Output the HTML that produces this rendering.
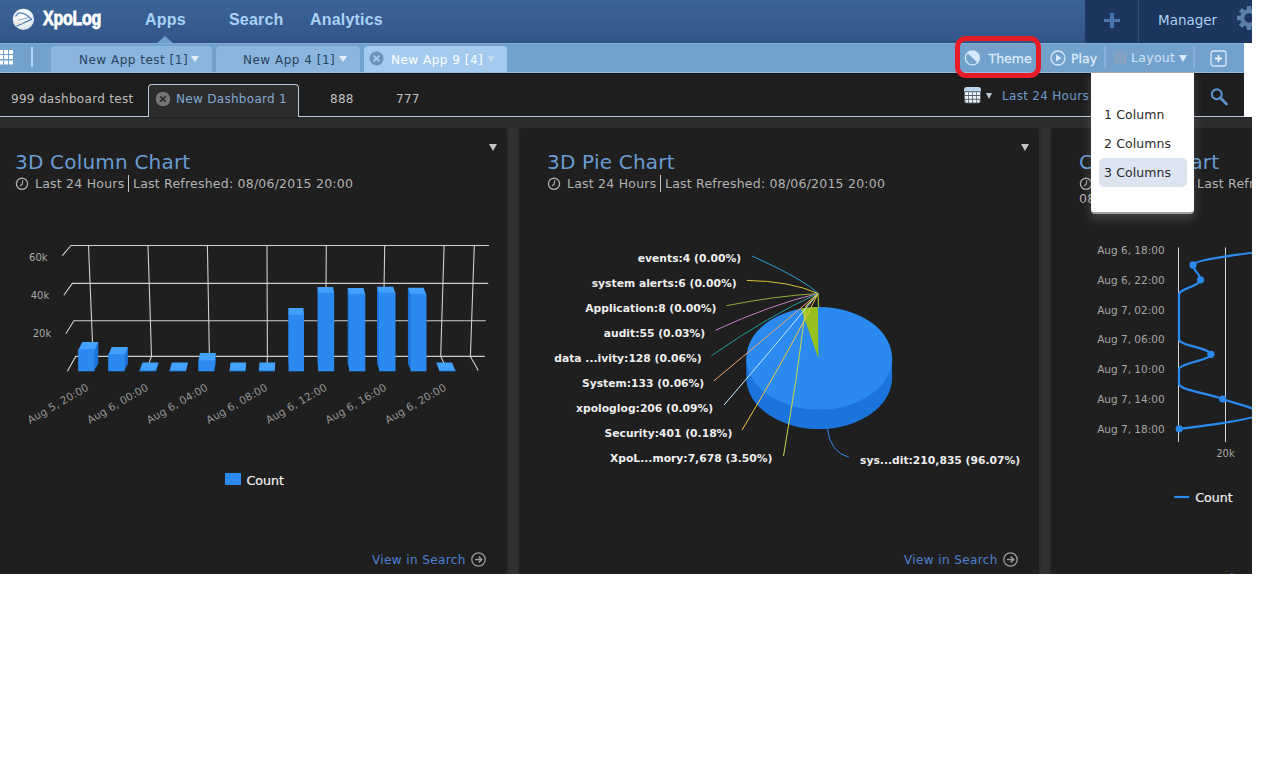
<!DOCTYPE html>
<html><head><meta charset="utf-8"><title>XpoLog Dashboard</title>
<style>
*{box-sizing:border-box;margin:0;padding:0}
html,body{width:1280px;height:760px;background:#fff;overflow:hidden}
body{position:relative;font-family:"DejaVu Sans","Liberation Sans",sans-serif}
.abs{position:absolute}
#topnav{left:0;top:0;width:1252px;height:43px;background:linear-gradient(#3b6597 0%,#33578a 90%,#2f5283 100%)}
#topdark{left:1085px;top:0;width:167px;height:43px;background:#1d365d}
#topsep{left:1138px;top:0;width:1px;height:43px;background:#2f4d78}
.nav{top:11px;font-family:"Liberation Sans",sans-serif;font-weight:bold;font-size:16px;color:#a9d1f6;letter-spacing:0.2px}
#toolbar{left:0;top:43px;width:1244px;height:30px;background:#72a2cc;border-top:1px solid #80acd5;border-bottom:1px solid #9dbcda}
.apptab{top:46px;height:26px;background:#8ab6de;border-radius:4px 4px 0 0;font-size:12px;color:#27435f;line-height:28px;letter-spacing:0.5px;white-space:nowrap}
.tarr{display:inline-block;width:0;height:0;border-left:4px solid transparent;border-right:4px solid transparent;border-top:6.5px solid #e4eef8;margin-left:-1px;vertical-align:2.5px}
#dashrow{left:0;top:73px;width:1244px;height:43px;background:#1e1e1e;border-top:1px solid #0d1520}
#dashline{left:0;top:116px;width:1244px;height:1px;background:#c3cbd4}
#gapband{left:0;top:117px;width:1252px;height:11px;background:#2d2c2d;border-top:1px solid #1b2430}
.panel{top:128px;height:446px;background:#1f1f1f;border-radius:4px 4px 0 0}
.title{font-size:20px;color:#6a9dd3;letter-spacing:0.2px;white-space:nowrap}
.sub{top:176px;font-size:12.5px;color:#b2b2b2;white-space:nowrap;letter-spacing:0.22px}
.parr{top:144px;width:0;height:0;border-left:4px solid transparent;border-right:4px solid transparent;border-top:7px solid #c4c4c4}
.vic{top:551px}
.tb{top:51px;font-size:12.5px;color:#d8eaf9;letter-spacing:0px;-webkit-text-stroke:0.35px #d8eaf9}
.dt{top:92px;font-size:12px;letter-spacing:0.3px;white-space:nowrap}
.dd{left:1104px;font-size:12.5px;letter-spacing:0.1px;color:#2a2a2a;white-space:nowrap}
.vis{top:553px;font-size:12px;color:#4b82d4;white-space:nowrap;letter-spacing:0.4px}
</style></head><body>
<div id="app" style="position:absolute;left:0;top:0;width:1252px;height:574px;overflow:hidden">
<!-- top nav -->
<div class="abs" id="topnav"></div>
<div class="abs" id="topdark"></div>
<div class="abs" id="topsep"></div>

<!-- logo -->
<svg class="abs" style="left:11px;top:7px" width="25" height="25" viewBox="0 0 25 25">
<defs><radialGradient id="lg" cx="0.45" cy="0.4" r="0.6"><stop offset="0" stop-color="#ffffff"/><stop offset="0.7" stop-color="#eef2f6"/><stop offset="1" stop-color="#d9e2ea"/></radialGradient></defs>
<circle cx="12.4" cy="12.3" r="10.6" fill="url(#lg)"/>
<path d="M4.4 9.4 L7.5 6 Q13.4 4.6 20.6 12.4 L5.4 19.3" fill="none" stroke="#4a7cb4" stroke-width="1.2" stroke-linejoin="round"/>
<path d="M6.8 13.4 Q12 12 17.5 10.6" fill="none" stroke="#7c9dc2" stroke-width="1"/>
<path d="M3 15.5 Q8 16.5 12 15.2" fill="none" stroke="#eadfcf" stroke-width="2" opacity="0.7"/>
</svg>
<div class="abs" style="left:43px;top:7px;font-family:'Liberation Sans',sans-serif;font-weight:bold;font-size:20px;color:#fff;transform:scaleX(0.8);transform-origin:0 0;letter-spacing:-0.3px;-webkit-text-stroke:0.8px #fff">XpoLog</div>
<!-- apps pointer -->
<div class="abs" style="left:156.5px;top:36px;width:0;height:0;border-left:8.5px solid transparent;border-right:8.5px solid transparent;border-bottom:7px solid #6f9fcb"></div>
<!-- plus in dark area -->
<div class="abs" style="left:1104px;top:18.5px;width:16px;height:3.5px;background:#4874ad"></div>
<div class="abs" style="left:1110.25px;top:12.5px;width:3.5px;height:15.5px;background:#4874ad"></div>
<!-- gear -->
<svg class="abs" style="left:1234px;top:5px" width="18" height="28" viewBox="0 0 18 28">
<g transform="translate(15,13)" fill="#5a7fa8">
<circle r="8.9"/>
<g><rect x="-2.3" y="-12" width="4.6" height="5"/><rect x="-2.3" y="7" width="4.6" height="5"/><rect x="-12" y="-2.3" width="5" height="4.6"/><rect x="7" y="-2.3" width="5" height="4.6"/></g>
<g transform="rotate(45)"><rect x="-2.3" y="-12" width="4.6" height="5"/><rect x="-2.3" y="7" width="4.6" height="5"/><rect x="-12" y="-2.3" width="5" height="4.6"/><rect x="7" y="-2.3" width="5" height="4.6"/></g>
<circle r="4.7" fill="#1d365d"/>
</g></svg>
<div class="abs nav" style="left:145px">Apps</div>
<div class="abs nav" style="left:229px">Search</div>
<div class="abs nav" style="left:310px">Analytics</div>
<div class="abs" style="left:1158px;top:12px;font-size:13.5px;color:#a9d1f6">Manager</div>

<!-- toolbar -->
<div class="abs" id="toolbar"></div>
<div class="abs apptab" style="left:51px;width:161px;padding-left:28px">New App test [1] <span class="tarr"></span></div>
<div class="abs apptab" style="left:216px;width:144px;padding-left:27px">New App 4 [1] <span class="tarr"></span></div>
<div class="abs apptab" style="left:364px;width:143px;padding-left:27px;background:#a3cbf0;color:#fff">New App 9 [4] <span class="tarr" style="border-top-color:#c4dcf2"></span></div>


<!-- grid icon -->
<svg class="abs" style="left:0;top:50px" width="14" height="15" viewBox="0 0 14 15" fill="#fbfdff">
<rect x="-1" y="0" width="4" height="4"/><rect x="4" y="0" width="4" height="4"/><rect x="9" y="0" width="4" height="4"/>
<rect x="-1" y="5" width="4" height="4"/><rect x="4" y="5" width="4" height="4"/><rect x="9" y="5" width="4" height="4"/>
<rect x="-1" y="10.5" width="4" height="4"/><rect x="4" y="10.5" width="4" height="4"/><rect x="9" y="10.5" width="4" height="4"/>
</svg>
<div class="abs" style="left:31px;top:47px;width:2px;height:20px;background:#b2d6f9"></div>
<!-- tab close icon -->
<svg class="abs" style="left:369px;top:51px" width="15" height="15" viewBox="0 0 15 15"><circle cx="7.5" cy="7.5" r="7" fill="#6a92ba"/><path d="M4.6 4.6L10.4 10.4M10.4 4.6L4.6 10.4" stroke="#a8cdf0" stroke-width="1.8"/></svg>
<!-- right side toolbar -->
<svg class="abs" style="left:964px;top:50px" width="17" height="17" viewBox="0 0 17 17">
<circle cx="8.4" cy="7.9" r="7" fill="none" stroke="#d6e8fa" stroke-width="1.3"/>
<path d="M3.4 3 A7 7 0 0 1 13.4 12.8 Z" fill="#d6e8fa"/>
</svg>
<div class="abs tb" style="left:988.5px">Theme</div>
<svg class="abs" style="left:1050px;top:50px" width="17" height="17" viewBox="0 0 17 17">
<circle cx="8" cy="8" r="7" fill="none" stroke="#d6e8fa" stroke-width="1.3"/>
<path d="M6 4.5 L11.5 8 L6 11.5 Z" fill="#d6e8fa"/>
</svg>
<div class="abs tb" style="left:1071px">Play</div>
<div class="abs" style="left:1104px;top:46px;width:2px;height:22px;background:#86b1da"></div>
<svg class="abs" style="left:1115px;top:52px" width="12" height="12" viewBox="0 0 12 12" fill="#8aa3bc" opacity="0.85">
<rect x="0" y="0" width="3" height="12"/><rect x="4" y="0" width="3" height="12"/><rect x="8" y="0" width="3" height="12"/></svg>
<div class="abs" style="left:1131px;top:50px;font-size:12.5px;letter-spacing:0.3px;color:#cfe4f8">Layout</div>
<div class="abs" style="left:1179px;top:55px;width:0;height:0;border-left:4px solid transparent;border-right:4px solid transparent;border-top:7px solid #dcebf9"></div>
<div class="abs" style="left:1193px;top:46px;width:2px;height:22px;background:#86b1da"></div>
<svg class="abs" style="left:1209.5px;top:49.5px" width="18" height="18" viewBox="0 0 18 18">
<rect x="1" y="1" width="15" height="15" rx="2.5" fill="none" stroke="#d6e8fa" stroke-width="1.3"/>
<path d="M8.5 5v7M5 8.5h7" stroke="#e8f2fc" stroke-width="1.8"/></svg>

<!-- dashboard tabs row -->
<div class="abs" id="dashrow"></div>
<div class="abs" id="dashline"></div>
<!-- dashboard tabs -->
<div class="abs dt" style="left:11px;color:#bdbdbd">999 dashboard test</div>
<div class="abs" style="left:148px;top:84px;width:151px;height:34px;background:#2d2c2d;border:1px solid #b9c9da;border-bottom:none;border-radius:4px 4px 0 0"></div>
<svg class="abs" style="left:155px;top:91px" width="16" height="16" viewBox="0 0 16 16"><circle cx="8" cy="8" r="7.3" fill="#757575"/><path d="M5.2 5.2L10.8 10.8M10.8 5.2L5.2 10.8" stroke="#262626" stroke-width="1.5"/></svg>
<div class="abs dt" style="left:176px;color:#83a8cf">New Dashboard 1</div>
<div class="abs dt" style="left:330px;color:#c0c0c0">888</div>
<div class="abs dt" style="left:396px;color:#c0c0c0">777</div>
<!-- calendar icon -->
<svg class="abs" style="left:963.5px;top:86.5px" width="18" height="17" viewBox="0 0 18 17">
<rect x="0" y="0" width="17" height="16.5" rx="3" fill="#56616d"/>
<path d="M3 0H14A3 3 0 0 1 17 3V4.2H0V3A3 3 0 0 1 3 0Z" fill="#bcd6ef"/>
<g fill="#eef2f6"><rect x="1" y="5.2" width="3.2" height="2.8"/><rect x="5" y="5.2" width="3.2" height="2.8"/><rect x="9" y="5.2" width="3.2" height="2.8"/><rect x="13" y="5.2" width="3" height="2.8"/>
<rect x="1" y="9" width="3.2" height="2.8"/><rect x="5" y="9" width="3.2" height="2.8"/><rect x="9" y="9" width="3.2" height="2.8"/><rect x="13" y="9" width="3" height="2.8"/>
<rect x="1.5" y="12.8" width="2.7" height="2.7"/><rect x="5" y="12.8" width="3.2" height="2.7"/><rect x="9" y="12.8" width="3.2" height="2.7"/><rect x="13" y="12.8" width="2.5" height="2.7"/></g>
</svg>
<div class="abs" style="left:986px;top:93px;width:0;height:0;border-left:3.5px solid transparent;border-right:3.5px solid transparent;border-top:6px solid #b8c8d8"></div>
<div class="abs dt" style="left:1002px;top:88.5px;color:#6b9bd0">Last 24 Hours</div>
<svg class="abs" style="left:1208px;top:86px" width="22" height="22" viewBox="0 0 22 22">
<circle cx="8.8" cy="8.3" r="4.9" fill="none" stroke="#5a90c9" stroke-width="2.2"/>
<path d="M12.3 11.8 L18.5 18" stroke="#5a90c9" stroke-width="3" stroke-linecap="round"/></svg>

<div class="abs" style="left:0;top:117px;width:1252px;height:457px;background:#2c2c2c"></div>
<div class="abs" id="gapband"></div>
<div class="abs" style="left:509px;top:128px;width:8px;height:446px;background:#313131"></div>
<div class="abs" style="left:1041px;top:128px;width:8px;height:446px;background:#313131"></div>

<!-- panels -->
<div class="abs panel" style="left:-4px;width:511px"></div>
<div class="abs panel" style="left:519px;width:520px"></div>
<div class="abs panel" style="left:1051px;width:201px;border-radius:4px 0 0 0"></div>


<!-- panel texts -->
<div class="abs title" style="left:15px;top:150px">3D Column Chart</div>
<div class="abs title" style="left:547px;top:150px">3D Pie Chart</div>
<div class="abs title" style="left:1079px;top:150px">Column Chart</div>
<div class="abs parr" style="left:489px"></div>
<div class="abs parr" style="left:1021px"></div>
<svg class="abs" style="left:15px;top:176.5px" width="14" height="14" viewBox="0 0 14 14"><circle cx="7" cy="6.8" r="5.6" fill="none" stroke="#a9a9a9" stroke-width="1.4"/><path d="M7.6 3.3L7.3 6.9L5.2 9" fill="none" stroke="#a9a9a9" stroke-width="1.1"/></svg>
<div class="abs sub" style="left:35px">Last 24 Hours</div>
<div class="abs" style="left:128px;top:175px;width:1px;height:17px;background:#c4c4c4"></div>
<div class="abs sub" style="left:133px">Last Refreshed: 08/06/2015 20:00</div>
<svg class="abs" style="left:547px;top:176.5px" width="14" height="14" viewBox="0 0 14 14"><circle cx="7" cy="6.8" r="5.6" fill="none" stroke="#a9a9a9" stroke-width="1.4"/><path d="M7.6 3.3L7.3 6.9L5.2 9" fill="none" stroke="#a9a9a9" stroke-width="1.1"/></svg>
<div class="abs sub" style="left:567px">Last 24 Hours</div>
<div class="abs" style="left:660px;top:175px;width:1px;height:17px;background:#c4c4c4"></div>
<div class="abs sub" style="left:665px">Last Refreshed: 08/06/2015 20:00</div>
<svg class="abs" style="left:1079px;top:176.5px" width="14" height="14" viewBox="0 0 14 14"><circle cx="7" cy="6.8" r="5.6" fill="none" stroke="#a9a9a9" stroke-width="1.4"/><path d="M7.6 3.3L7.3 6.9L5.2 9" fill="none" stroke="#a9a9a9" stroke-width="1.1"/></svg>
<div class="abs sub" style="left:1099px">Last 24 Hours</div>
<div class="abs" style="left:1192px;top:175px;width:1px;height:17px;background:#c4c4c4"></div>
<div class="abs sub" style="left:1197px;width:55px;overflow:hidden">Last Refreshed:</div>
<div class="abs sub" style="left:1079px;top:191px">08/06/2015 20:00</div>
<div class="abs vis" style="left:372px">View in Search</div>
<svg class="abs vic" style="left:470px" width="17" height="17" viewBox="0 0 17 17"><circle cx="8.5" cy="8.5" r="6.7" fill="none" stroke="#9a9a9a" stroke-width="1.3"/><path d="M5 8.5H11.5M8.8 5.6L11.7 8.5L8.8 11.4" fill="none" stroke="#9a9a9a" stroke-width="1.5"/></svg>
<div class="abs vis" style="left:904px">View in Search</div>
<svg class="abs vic" style="left:1002px" width="17" height="17" viewBox="0 0 17 17"><circle cx="8.5" cy="8.5" r="6.7" fill="none" stroke="#9a9a9a" stroke-width="1.3"/><path d="M5 8.5H11.5M8.8 5.6L11.7 8.5L8.8 11.4" fill="none" stroke="#9a9a9a" stroke-width="1.5"/></svg>
<div class="abs vis" style="left:1222px;top:571.5px">View in Search</div>
<!--CHARTS-->
<svg class="abs" style="left:0;top:0" width="1252" height="574" viewBox="0 0 1252 574">
<path d="M62.4 255.7L70.9 245.5L489.1 245.5 M63.8 295.2L72.3 283.4L488.2 283.4 M65.8 333.7L73.9 320.8L485.8 320.8 M67.4 371.2L75.7 356.4L484.8 356.4 M88.5 245.5L93.1 356.4L85.3 370.6 M148 245.5L151.5 356.4L146.1 370.6 M207.4 245.5L209.4 356.4L206.4 370.6 M267 245.5L267.4 356.4L266.8 370.6 M326.3 245.5L325.6 356.4L327.5 370.6 M384.7 245.5L383.0 356.4L387.3 370.6 M444.1 245.5L440.7 356.4L447.4 370.6 M474.3 245.5L470.4 356.4L478.3 370.6" fill="none" stroke="#cfcfcf" stroke-width="1.1"/>
<text x="47.6" y="260.7" text-anchor="end" font-family="DejaVu Sans, Liberation Sans, sans-serif" font-size="10" fill="#a9a9a9">60k</text>
<text x="49.2" y="298.7" text-anchor="end" font-family="DejaVu Sans, Liberation Sans, sans-serif" font-size="10" fill="#a9a9a9">40k</text>
<text x="51.2" y="337" text-anchor="end" font-family="DejaVu Sans, Liberation Sans, sans-serif" font-size="10" fill="#a9a9a9">20k</text>
<path d="M93.5 349.2L98.3 342.1L98.3 363.8L93.5 371.3Z" fill="#1c74d6"/>
<path d="M78.2 350.2L82.3 342.1L98.3 342.1L94.5 350.2Z" fill="#42a0ff"/>
<rect x="78.2" y="349.2" width="16.3" height="22.1" fill="#2a8af0"/>
<path d="M123.7 354.2L127.9 347.0L127.9 363.8L123.7 371.3Z" fill="#1c74d6"/>
<path d="M108.2 355.2L111.7 347.0L127.9 347.0L124.7 355.2Z" fill="#42a0ff"/>
<rect x="108.2" y="354.2" width="16.5" height="17.1" fill="#2a8af0"/>
<path d="M155 370.0L158.5 362.5L158.5 363.8L155 371.3Z" fill="#1c74d6"/>
<path d="M139.5 371.0L142.4 362.5L158.5 362.5L156 371.0Z" fill="#42a0ff"/>
<rect x="139.5" y="370.0" width="16.5" height="1.3" fill="#2a8af0"/>
<path d="M185 370.0L187.9 362.5L187.9 363.8L185 371.3Z" fill="#1c74d6"/>
<path d="M169.5 371.0L171.8 362.5L187.9 362.5L186 371.0Z" fill="#42a0ff"/>
<rect x="169.5" y="370.0" width="16.5" height="1.3" fill="#2a8af0"/>
<path d="M213.5 360.3L215.8 353.0L215.8 363.8L213.5 371.3Z" fill="#1c74d6"/>
<path d="M198.3 361.3L200.0 353.0L215.8 353.0L214.5 361.3Z" fill="#42a0ff"/>
<rect x="198.3" y="360.3" width="16.2" height="11.0" fill="#2a8af0"/>
<path d="M244.5 370.0L246.2 362.5L246.2 363.8L244.5 371.3Z" fill="#1c74d6"/>
<path d="M229.5 371.0L230.5 362.5L246.2 362.5L245.5 371.0Z" fill="#42a0ff"/>
<rect x="229.5" y="370.0" width="16.0" height="1.3" fill="#2a8af0"/>
<path d="M274 370.0L275.1 362.5L275.1 363.8L274 371.3Z" fill="#1c74d6"/>
<path d="M259 371.0L259.4 362.5L275.1 362.5L275 371.0Z" fill="#42a0ff"/>
<rect x="259" y="370.0" width="16.0" height="1.3" fill="#2a8af0"/>
<path d="M289.6 314.5L288.4 308.1L288.4 363.8L289.6 371.3Z" fill="#1c74d6"/>
<path d="M288.6 315.5L288.4 308.1L303.5 308.1L304.0 315.5Z" fill="#42a0ff"/>
<rect x="288.6" y="314.5" width="15.4" height="56.8" fill="#2a8af0"/>
<path d="M319.2 292.8L317.4 286.9L317.4 363.8L319.2 371.3Z" fill="#1c74d6"/>
<path d="M318.2 293.8L317.4 286.9L333.1 286.9L334.2 293.8Z" fill="#42a0ff"/>
<rect x="318.2" y="292.8" width="16.0" height="78.5" fill="#2a8af0"/>
<path d="M350 294L347.6 288.0L347.6 363.8L350 371.3Z" fill="#1c74d6"/>
<path d="M349 295L347.6 288.0L363.6 288.0L365.3 295Z" fill="#42a0ff"/>
<rect x="349" y="294" width="16.3" height="77.3" fill="#2a8af0"/>
<path d="M380 292.6L377.0 286.7L377.0 363.8L380 371.3Z" fill="#1c74d6"/>
<path d="M379 293.6L377.0 286.7L393.2 286.7L395.5 293.6Z" fill="#42a0ff"/>
<rect x="379" y="292.6" width="16.5" height="78.7" fill="#2a8af0"/>
<path d="M411.5 293.8L407.9 287.8L407.9 363.8L411.5 371.3Z" fill="#1c74d6"/>
<path d="M410.5 294.8L407.9 287.8L423.5 287.8L426.5 294.8Z" fill="#42a0ff"/>
<rect x="410.5" y="293.8" width="16.0" height="77.5" fill="#2a8af0"/>
<path d="M440.5 370.0L436.3 362.5L436.3 363.8L440.5 371.3Z" fill="#1c74d6"/>
<path d="M439.5 371.0L436.3 362.5L452.0 362.5L455.5 371.0Z" fill="#42a0ff"/>
<rect x="439.5" y="370.0" width="16.0" height="1.3" fill="#2a8af0"/>
<text x="89.5" y="389.6" text-anchor="end" transform="rotate(-30 89.5 389.6)" font-family="DejaVu Sans, Liberation Sans, sans-serif" font-size="10.5" letter-spacing="0.1" fill="#959595">Aug 5, 20:00</text>
<text x="149.1" y="389.6" text-anchor="end" transform="rotate(-30 149.1 389.6)" font-family="DejaVu Sans, Liberation Sans, sans-serif" font-size="10.5" letter-spacing="0.1" fill="#959595">Aug 6, 00:00</text>
<text x="208.7" y="389.6" text-anchor="end" transform="rotate(-30 208.7 389.6)" font-family="DejaVu Sans, Liberation Sans, sans-serif" font-size="10.5" letter-spacing="0.1" fill="#959595">Aug 6, 04:00</text>
<text x="268.3" y="389.6" text-anchor="end" transform="rotate(-30 268.3 389.6)" font-family="DejaVu Sans, Liberation Sans, sans-serif" font-size="10.5" letter-spacing="0.1" fill="#959595">Aug 6, 08:00</text>
<text x="327.9" y="389.6" text-anchor="end" transform="rotate(-30 327.9 389.6)" font-family="DejaVu Sans, Liberation Sans, sans-serif" font-size="10.5" letter-spacing="0.1" fill="#959595">Aug 6, 12:00</text>
<text x="387.5" y="389.6" text-anchor="end" transform="rotate(-30 387.5 389.6)" font-family="DejaVu Sans, Liberation Sans, sans-serif" font-size="10.5" letter-spacing="0.1" fill="#959595">Aug 6, 16:00</text>
<text x="447.1" y="389.6" text-anchor="end" transform="rotate(-30 447.1 389.6)" font-family="DejaVu Sans, Liberation Sans, sans-serif" font-size="10.5" letter-spacing="0.1" fill="#959595">Aug 6, 20:00</text>
<rect x="225" y="473" width="16" height="12" fill="#2a8af0"/>
<text x="246.5" y="485" font-family="DejaVu Sans, Liberation Sans, sans-serif" font-size="12.5" fill="#f2f2f2" stroke="#f2f2f2" stroke-width="0.2" textLength="37.5" lengthAdjust="spacingAndGlyphs">Count</text>
<path d="M746.3000000000001 358.3L746.3000000000001 377.8A72.9 51.3 0 0 0 892.1 377.8L892.1 358.3Z" fill="#1b74dc"/>
<ellipse cx="819.2" cy="358.3" rx="72.9" ry="51.3" fill="#2b8af0"/>
<path d="M818.4000000000001 358.3L800.9 308.6A72.9 51.3 0 0 1 818.0 307.0Z" fill="#97c11f"/>
<path d="M752.0 256.0Q805 280 818.0 293.5" fill="none" stroke="#2a9fd6" stroke-width="1"/>
<path d="M746.8 280.4Q790 281 818.0 293.5" fill="none" stroke="#d9c238" stroke-width="1"/>
<path d="M726.3 305.7Q775 296 818.0 293.5" fill="none" stroke="#8fae35" stroke-width="1"/>
<path d="M715.5 330.3Q770 305 818.0 293.5" fill="none" stroke="#c27fc4" stroke-width="1"/>
<path d="M711.5 355.7Q770 315 818.0 293.5" fill="none" stroke="#22a29a" stroke-width="1"/>
<path d="M714.0 380.7Q775 330 818.0 293.5" fill="none" stroke="#f0a474" stroke-width="1"/>
<path d="M724.0 405.0Q780 340 818.0 293.5" fill="none" stroke="#c8ecff" stroke-width="1"/>
<path d="M742.0 430.0Q790 350 818.0 293.5" fill="none" stroke="#f2c344" stroke-width="1"/>
<path d="M783.5 456.0Q797 380 806 306L818.0 293.5" fill="none" stroke="#c9d64a" stroke-width="1"/>
<path d="M818.0 293.5L818.6 307.5" stroke="#9bbd3a" stroke-width="1.2"/>
<path d="M848.9 457.3Q830 452 827.4 428.6" fill="none" stroke="#2b8af0" stroke-width="1"/>
<text x="741.2" y="262" text-anchor="end" font-family="DejaVu Sans, Liberation Sans, sans-serif" font-size="10.75" font-weight="bold" fill="#eeeeee">events:4 (0.00%)</text>
<text x="736.6" y="286.7" text-anchor="end" font-family="DejaVu Sans, Liberation Sans, sans-serif" font-size="10.75" font-weight="bold" fill="#eeeeee">system alerts:6 (0.00%)</text>
<text x="716.5" y="312" text-anchor="end" font-family="DejaVu Sans, Liberation Sans, sans-serif" font-size="10.75" font-weight="bold" fill="#eeeeee">Application:8 (0.00%)</text>
<text x="705.3" y="337" text-anchor="end" font-family="DejaVu Sans, Liberation Sans, sans-serif" font-size="10.75" font-weight="bold" fill="#eeeeee">audit:55 (0.03%)</text>
<text x="701.7" y="361.7" text-anchor="end" font-family="DejaVu Sans, Liberation Sans, sans-serif" font-size="10.75" font-weight="bold" fill="#eeeeee">data ...ivity:128 (0.06%)</text>
<text x="704.3" y="387" text-anchor="end" font-family="DejaVu Sans, Liberation Sans, sans-serif" font-size="10.75" font-weight="bold" fill="#eeeeee">System:133 (0.06%)</text>
<text x="713.2" y="412" text-anchor="end" font-family="DejaVu Sans, Liberation Sans, sans-serif" font-size="10.75" font-weight="bold" fill="#eeeeee">xpologlog:206 (0.09%)</text>
<text x="732.3" y="437" text-anchor="end" font-family="DejaVu Sans, Liberation Sans, sans-serif" font-size="10.75" font-weight="bold" fill="#eeeeee">Security:401 (0.18%)</text>
<text x="772.5" y="461.8" text-anchor="end" font-family="DejaVu Sans, Liberation Sans, sans-serif" font-size="10.75" font-weight="bold" fill="#eeeeee">XpoL...mory:7,678 (3.50%)</text>
<text x="860" y="463.5" font-family="DejaVu Sans, Liberation Sans, sans-serif" font-size="10.75" font-weight="bold" fill="#eeeeee">sys...dit:210,835 (96.07%)</text>
<defs><clipPath id="p3"><rect x="1051" y="128" width="201" height="446"/></clipPath></defs>
<path d="M1178.5 247.4V442M1225.5 247.4V442" stroke="#d8d8d8" stroke-width="1"/>
<text x="1164.6" y="254.0" text-anchor="end" font-family="DejaVu Sans, Liberation Sans, sans-serif" font-size="10.5" fill="#a6a6a6">Aug 6, 18:00</text>
<text x="1164.6" y="283.8" text-anchor="end" font-family="DejaVu Sans, Liberation Sans, sans-serif" font-size="10.5" fill="#a6a6a6">Aug 6, 22:00</text>
<text x="1164.6" y="313.6" text-anchor="end" font-family="DejaVu Sans, Liberation Sans, sans-serif" font-size="10.5" fill="#a6a6a6">Aug 7, 02:00</text>
<text x="1164.6" y="343.4" text-anchor="end" font-family="DejaVu Sans, Liberation Sans, sans-serif" font-size="10.5" fill="#a6a6a6">Aug 7, 06:00</text>
<text x="1164.6" y="373.2" text-anchor="end" font-family="DejaVu Sans, Liberation Sans, sans-serif" font-size="10.5" fill="#a6a6a6">Aug 7, 10:00</text>
<text x="1164.6" y="403.0" text-anchor="end" font-family="DejaVu Sans, Liberation Sans, sans-serif" font-size="10.5" fill="#a6a6a6">Aug 7, 14:00</text>
<text x="1164.6" y="432.8" text-anchor="end" font-family="DejaVu Sans, Liberation Sans, sans-serif" font-size="10.5" fill="#a6a6a6">Aug 7, 18:00</text>
<text x="1225.5" y="457" text-anchor="middle" font-family="DejaVu Sans, Liberation Sans, sans-serif" font-size="10" fill="#a6a6a6">20k</text>
<g clip-path="url(#p3)"><path d="M1275 250.0C1275.0 250.0 1193.1 258.9 1193.1 264.9C1193.1 270.9 1200.5 273.8 1200.5 279.8C1200.5 285.8 1179.0 288.7 1179 294.7C1179.0 300.7 1179.0 303.6 1179 309.6C1179.0 315.6 1179.0 318.5 1179 324.5C1179.0 330.5 1179.0 333.4 1179 339.4C1179.0 345.4 1210.9 348.3 1210.9 354.3C1210.9 360.3 1179.0 363.2 1179 369.2C1179.0 375.2 1179.0 378.1 1179 384.1C1179.0 390.1 1206.7 393.0 1222.7 399.0C1238.7 405.0 1259.0 407.9 1259 413.9C1259.0 419.9 1179.2 428.8 1179.2 428.8" fill="none" stroke="#2b8af0" stroke-width="2.2"/>
<circle cx="1193.1" cy="264.9" r="3.6" fill="#2b8af0"/>
<circle cx="1200.5" cy="279.8" r="3.6" fill="#2b8af0"/>
<circle cx="1210.9" cy="354.3" r="3.6" fill="#2b8af0"/>
<circle cx="1222.7" cy="399.0" r="3.6" fill="#2b8af0"/>
<circle cx="1179.2" cy="428.8" r="3.6" fill="#2b8af0"/>
</g>
<path d="M1174.2 497H1189.4" stroke="#2b8af0" stroke-width="2.2"/>
<text x="1195.3" y="501.5" font-family="DejaVu Sans, Liberation Sans, sans-serif" font-size="12.5" fill="#f2f2f2" stroke="#f2f2f2" stroke-width="0.2" textLength="37.3" lengthAdjust="spacingAndGlyphs">Count</text>
</svg>
<!--/CHARTS-->

<!-- layout dropdown -->
<div class="abs" style="left:1091px;top:72px;width:103px;height:142px;background:#fff;border-top:1px solid #a8a8a8;border-bottom:2px solid #a2a2a2;border-radius:0 0 4px 4px;box-shadow:0 5px 10px 1px rgba(150,150,150,0.28)"></div>
<div class="abs" style="left:1099px;top:158px;width:88px;height:29px;background:#dbe4f0;border-radius:5px"></div>
<div class="abs dd" style="top:107px">1 Column</div>
<div class="abs dd" style="top:136px">2 Columns</div>
<div class="abs dd" style="top:165px">3 Columns</div>
<!-- red annotation -->
<div class="abs" style="left:955px;top:36px;width:86px;height:42px;border:5px solid #e61c26;border-radius:11px"></div>
</div>
</body></html>
